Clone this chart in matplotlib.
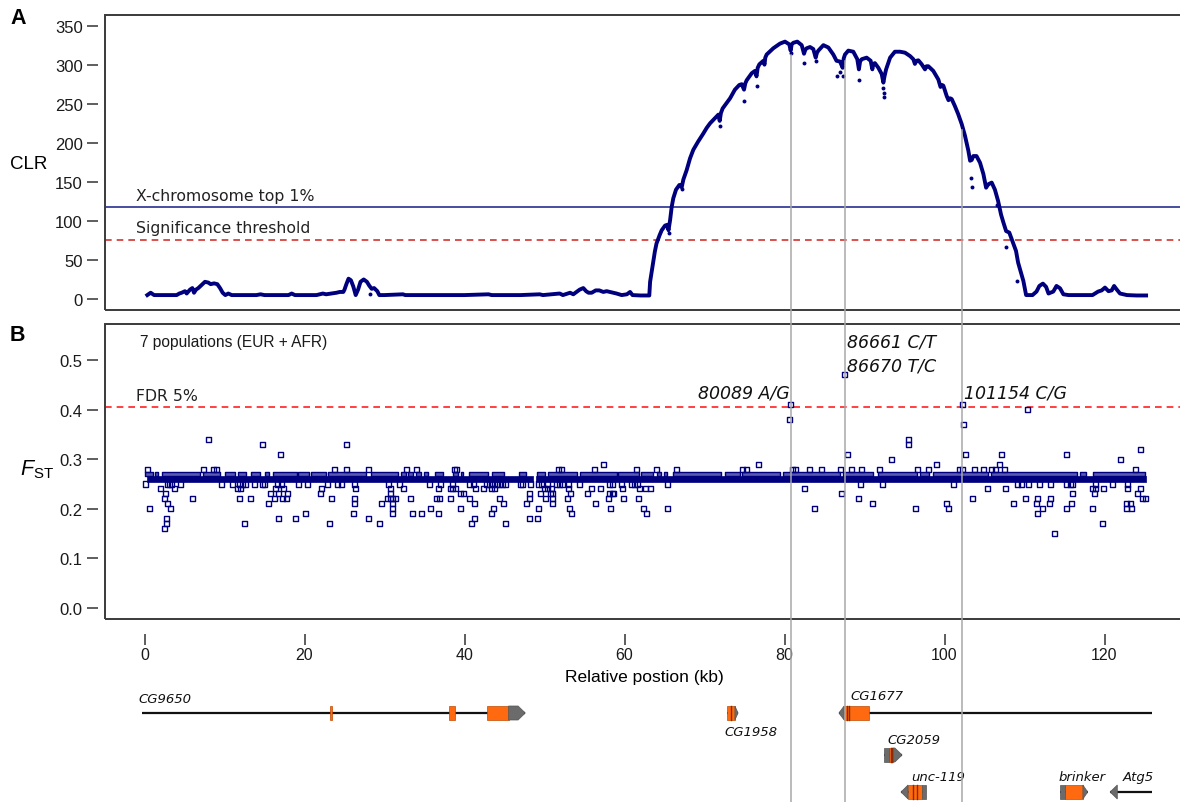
import numpy as np
import matplotlib.pyplot as plt
from matplotlib.patches import Rectangle, Polygon
from matplotlib.lines import Line2D
from matplotlib.transforms import blended_transform_factory

plt.rcParams['font.family'] = ['Liberation Sans', 'DejaVu Sans']
plt.rcParams['mathtext.fontset'] = 'custom'
plt.rcParams['mathtext.rm'] = 'Liberation Sans'
plt.rcParams['mathtext.it'] = 'Liberation Sans:italic'

NAVY = '#00007f'
ORANGE = '#ff6a10'
GREY = '#6b6b6b'

# ---- CLR scan (kb, CLR) ----
clr_kb = [0.35, 0.77, 1.2, 2.0, 3.0, 4.02, 4.35, 4.65, 5.06, 5.27, 5.69, 5.98, 6.19,
          6.44, 6.73, 7.15, 7.56, 7.98, 8.27, 8.69, 9.1, 9.44, 9.77, 10.1, 10.48, 10.9,
          12.0, 14.0, 14.5, 15.0, 18.0, 18.4, 18.8, 21.5, 21.9, 22.3, 22.7, 24.0, 24.4,
          24.85, 25.0, 25.2, 25.5, 25.8, 26.1, 26.4, 26.7, 27.0, 27.4, 27.8, 28.1, 28.4,
          28.7, 29.1, 29.35, 30.0, 32.3, 32.6, 36.0, 40.0, 43.0, 43.4, 47.0, 49.4, 49.8,
          51.9, 52.3, 53.2, 53.6, 54.0, 54.4, 54.85, 55.2, 55.5, 55.9, 56.4, 56.85, 57.35,
          57.77, 58.2, 58.6, 59.0, 59.65, 60.3, 60.7, 61.0, 62.0, 63.1,
          63.2, 63.4, 63.6, 63.8, 64.0, 64.4, 64.65, 65.07, 65.36, 65.5, 65.7, 65.9, 66.1,
          66.44, 66.86, 67.15, 67.36, 67.77, 68.19, 68.6, 69.2, 69.86, 70.27, 70.7, 71.3,
          71.73, 71.9, 72.05, 72.27, 72.77, 73.2, 73.8, 74.35, 74.65, 74.94, 75.1, 75.27,
          75.9, 76.3, 76.5, 76.65, 76.86, 77.36, 77.5, 77.6, 77.77, 78.6, 79.44, 80.06,
          80.6, 80.77, 80.9, 81.1, 81.6, 82.15, 82.44, 82.6, 82.77, 83.19, 83.6, 83.9,
          84.05, 84.23, 84.86, 85.48, 86.1, 86.5, 86.94, 87.27, 87.4, 87.56, 87.98, 88.6,
          89.1, 89.3, 89.45, 89.65, 90.27, 90.77, 90.98, 91.1, 91.3, 91.73, 92.15, 92.36,
          92.5, 92.7, 93.2, 93.8, 94.44, 95.06, 95.7, 96.1, 96.3, 96.5, 96.73, 97.15,
          97.56, 97.75, 97.98, 98.6, 99.23, 99.5, 99.7, 99.86, 100.27, 100.5, 100.7, 100.9,
          101.3, 101.7, 102.15, 102.56, 102.98, 103.2, 103.4, 103.6, 104.0, 104.44, 104.86,
          105.2, 105.35, 105.5, 105.9, 106.3, 106.7, 107.07, 107.36, 107.7, 108.1, 108.5,
          108.94, 109.2, 109.5, 109.86, 110.06, 110.2, 111.0, 111.5, 111.86, 112.3, 112.7,
          113.0, 113.6, 114.0, 114.44, 114.86, 115.5, 117.0, 118.5, 119.2, 119.65, 120.06,
          120.5, 120.9, 121.2, 121.5, 121.94, 122.8, 124.0, 125.2]
clr_val = [5, 8, 5, 5, 5, 5, 7, 8, 10, 7, 12, 14, 8,
           12, 14, 18, 22, 21, 19, 20, 19, 14, 8, 5, 7, 5,
           5, 5, 6, 5, 5, 7, 5, 5, 6, 7, 6, 8, 9,
           9, 12, 18, 26, 24, 16, 5, 12, 22, 25, 22, 17, 13,
           14, 10, 5, 5, 6, 5, 5, 5, 6, 5, 5, 6, 5,
           7, 5, 8, 6, 9, 12, 14, 10, 8, 8, 11, 11, 9,
           10, 9, 8, 7, 5, 6, 9, 5, 4.5, 4.5,
           22, 35, 48, 61, 71, 82, 88, 94, 95, 88, 101, 118, 129,
           140, 146, 143, 153, 165, 180, 191, 201.5, 212, 219, 225, 231.5,
           236, 228, 238, 244, 251, 257, 268, 274, 275, 268, 276, 280,
           289, 292, 285, 296, 300.5, 305, 300, 309, 313, 321, 327, 329.5,
           326, 318, 326, 328, 329.5, 325, 314, 319, 321, 322.6, 320, 309,
           315, 318, 325, 322, 313, 305, 304, 296, 308, 313, 318, 316.6,
           307, 294, 304, 307, 309, 305, 294, 301, 302, 296, 288, 277,
           285, 294, 309, 316.6, 316.6, 315.4, 311, 307, 301, 305, 305.6, 300.5,
           294, 298, 298, 292, 281, 271.5, 274, 273, 260, 254.5, 257, 256,
           247, 237, 224, 209, 190, 177, 178, 183, 183, 174.5, 160,
           142.5, 145, 147, 149, 140, 125.5, 108, 98, 87, 85, 74,
           61.5, 46.6, 36, 23, 12.4, 5, 5, 9.5, 16.7, 19.7, 15.5,
           7, 9.5, 16.7, 13.7, 6, 5, 5, 5, 9.5, 11, 14.6,
           10, 11, 16.7, 12.5, 7, 5, 4.5, 4.5]
# isolated points that fall below the main curve
clr_out_kb = [28.2, 65.6, 67.15, 71.94, 74.94, 76.5, 80.77, 82.44, 83.9, 86.5, 86.94,
              87.27, 89.3, 92.36, 92.38, 92.4, 103.3, 103.4, 106.5, 107.7, 109.0]
clr_out_val = [6, 85, 141, 222, 253.5, 273, 315, 302.6, 305, 285, 290,
               285, 281, 270, 264, 258.5, 155, 143, 120, 67, 23]

clr_top1 = 118      # X-chromosome top 1%
clr_signif = 75.5   # significance threshold

# ---- FST (kb, FST) ----
fst_kb = [8.04, 14.79, 25.29, 17.0,
          0.42, 7.42, 8.63, 9.04, 23.75, 25.29, 27.96, 32.7, 34.0, 38.7, 39.0,
          0.13, 2.83, 3.13, 3.42, 4.46, 9.58, 11.04, 11.88, 12.29, 12.63, 13.75, 14.79,
          15.04, 16.58, 17.08, 19.29, 20.42, 22.92, 24.08, 24.58, 26.25, 30.54, 31.88,
          35.63, 37.0, 38.54, 40.63, 41.17,
          1.96, 3.75, 11.58, 11.96, 16.38, 17.42, 22.08, 26.38, 30.7, 32.4, 36.8, 38.2,
          38.5, 38.9, 41.4,
          2.63, 15.7, 16.8, 17.9, 22.0, 30.7, 39.5, 39.9,
          2.54, 6.04, 11.88, 13.25, 16.25, 17.29, 17.79, 23.38, 26.29, 30.4, 30.7, 31.04,
          31.38, 33.2, 36.46, 36.88, 38.2, 40.6,
          2.92, 15.5, 26.3, 29.6, 31.0, 41.2,
          0.63, 3.25, 31.0, 35.75, 39.46,
          20.13, 26.17, 31.0, 33.46, 34.6, 36.75,
          2.71, 16.75, 18.83, 27.96, 41.25,
          2.71, 12.5, 23.13, 29.38, 40.9,
          2.5,
          57.38, 76.79,
          51.75, 52.17, 56.25, 61.46, 64.04, 66.46, 74.79, 75.21, 81.04, 81.38, 83.13,
          42.7, 43.13, 43.54, 43.96, 44.38, 44.79, 45.13, 46.96, 47.29, 48.2, 49.2, 49.58,
          50.42, 51.46, 51.88, 52.29, 53.04, 54.38, 58.13, 58.54, 59.58, 60.83, 61.25,
          61.67, 65.42,
          42.38, 43.33, 43.75, 50.0, 50.42, 50.83, 53.04, 55.83, 57.0, 59.79, 61.88,
          62.58, 63.25, 82.5,
          48.13, 49.46, 50.71, 51.04, 53.2, 55.33, 58.13, 58.46, 58.67,
          44.38, 48.13, 50.13, 50.96, 52.92, 58.04, 59.88, 61.79,
          44.88, 47.71, 50.96, 56.33,
          43.63, 49.21, 53.13, 58.2, 62.38, 65.33, 83.75,
          43.42, 53.33, 62.79,
          48.13, 49.17,
          45.08,
          80.75, 80.65, 87.5, 102.2, 110.4, 102.4, 95.54, 95.54, 124.46,
          87.83, 102.58, 107.08, 115.2, 93.42, 122.04, 98.96, 106.92,
          84.58, 87.0, 88.33, 89.58, 91.88, 96.58, 98.0, 101.88, 102.29, 103.75, 104.92,
          105.83, 106.33, 107.5, 123.83,
          89.46, 92.29, 101.17, 109.17, 109.58, 110.5, 111.88, 113.25, 115.2, 115.71,
          116.04, 118.88, 120.96, 122.83,
          105.33, 107.67, 118.54, 118.88, 119.92, 122.83, 124.46,
          87.08, 115.96, 118.79, 124.08,
          89.29, 103.46, 110.13, 111.67, 113.25, 124.79, 125.08,
          90.96, 100.21, 108.63, 111.46, 113.13, 115.92, 122.79, 123.2,
          96.33, 100.5, 112.21, 115.29, 118.46, 122.79, 123.42,
          111.67, 119.7, 113.79]
fst_val = [0.34, 0.33, 0.33, 0.31,
           0.28, 0.28, 0.28, 0.28, 0.28, 0.28, 0.28, 0.28, 0.28, 0.28, 0.28,
           0.25, 0.25, 0.25, 0.25, 0.25, 0.25, 0.25, 0.25, 0.25, 0.25, 0.25, 0.25,
           0.25, 0.25, 0.25, 0.25, 0.25, 0.25, 0.25, 0.25, 0.25, 0.25, 0.25,
           0.25, 0.25, 0.25, 0.25, 0.25,
           0.24, 0.24, 0.24, 0.24, 0.24, 0.24, 0.24, 0.24, 0.24, 0.24, 0.24, 0.24,
           0.24, 0.24, 0.24,
           0.23, 0.23, 0.23, 0.23, 0.23, 0.23, 0.23, 0.23,
           0.22, 0.22, 0.22, 0.22, 0.22, 0.22, 0.22, 0.22, 0.22, 0.22, 0.22, 0.22,
           0.22, 0.22, 0.22, 0.22, 0.22, 0.22,
           0.21, 0.21, 0.21, 0.21, 0.21, 0.21,
           0.20, 0.20, 0.20, 0.20, 0.20,
           0.19, 0.19, 0.19, 0.19, 0.19, 0.19,
           0.18, 0.18, 0.18, 0.18, 0.18,
           0.17, 0.17, 0.17, 0.17, 0.17,
           0.16,
           0.29, 0.29,
           0.28, 0.28, 0.28, 0.28, 0.28, 0.28, 0.28, 0.28, 0.28, 0.28, 0.28,
           0.25, 0.25, 0.25, 0.25, 0.25, 0.25, 0.25, 0.25, 0.25, 0.25, 0.25, 0.25,
           0.25, 0.25, 0.25, 0.25, 0.25, 0.25, 0.25, 0.25, 0.25, 0.25, 0.25,
           0.25, 0.25,
           0.24, 0.24, 0.24, 0.24, 0.24, 0.24, 0.24, 0.24, 0.24, 0.24, 0.24,
           0.24, 0.24, 0.24,
           0.23, 0.23, 0.23, 0.23, 0.23, 0.23, 0.23, 0.23, 0.23,
           0.22, 0.22, 0.22, 0.22, 0.22, 0.22, 0.22, 0.22,
           0.21, 0.21, 0.21, 0.21,
           0.20, 0.20, 0.20, 0.20, 0.20, 0.20, 0.20,
           0.19, 0.19, 0.19,
           0.18, 0.18,
           0.17,
           0.41, 0.38, 0.47, 0.41, 0.40, 0.37, 0.34, 0.33, 0.32,
           0.31, 0.31, 0.31, 0.31, 0.30, 0.30, 0.29, 0.29,
           0.28, 0.28, 0.28, 0.28, 0.28, 0.28, 0.28, 0.28, 0.28, 0.28, 0.28,
           0.28, 0.28, 0.28, 0.28,
           0.25, 0.25, 0.25, 0.25, 0.25, 0.25, 0.25, 0.25, 0.25, 0.25,
           0.25, 0.25, 0.25, 0.25,
           0.24, 0.24, 0.24, 0.24, 0.24, 0.24, 0.24,
           0.23, 0.23, 0.23, 0.23,
           0.22, 0.22, 0.22, 0.22, 0.22, 0.22, 0.22,
           0.21, 0.21, 0.21, 0.21, 0.21, 0.21, 0.21, 0.21,
           0.20, 0.20, 0.20, 0.20, 0.20, 0.20, 0.20,
           0.19, 0.17, 0.15]

# runs of consecutive SNPs sitting at 0.26 and at 0.27 (start kb, end kb)
band26_runs = [(0.3, 48.5), (48.9, 125.2)]
band27_runs = [(0.0, 1.0), (1.25, 1.67), (2.2, 6.9), (7.3, 9.4), (10.0, 11.25), (11.7, 12.7),
               (13.3, 14.4), (15.1, 15.5), (16.0, 19.0), (19.2, 20.6), (20.8, 22.7),
               (22.9, 27.7), (28.3, 31.7), (32.1, 32.7), (32.9, 33.5), (33.9, 34.6),
               (34.9, 35.4), (36.3, 37.3), (38.5, 39.2), (39.6, 39.8), (40.5, 42.9),
               (43.4, 44.9), (46.8, 47.7), (49.0, 50.0), (50.4, 54.0), (54.4, 59.0),
               (59.2, 61.8), (62.1, 63.5), (64.0, 64.6), (64.9, 65.3), (66.0, 72.1),
               (72.5, 74.4), (74.7, 79.4), (79.8, 86.9), (87.3, 91.0), (91.7, 96.5),
               (96.9, 98.1), (98.5, 105.4), (105.8, 116.5), (116.9, 117.7), (118.5, 125.0)]
fdr5 = 0.405

# highlighted SNPs
snp_kb = [80.75, 87.5, 102.2]

# ---- gene models ----
gene_names = ['CG9650', 'CG1958', 'CG1677', 'CG2059', 'unc-119', 'brinker', 'Atg5']
gene_strand = ['+', '+', '-', '+', '-', '+', '-']
gene_row = [0, 0, 0, 1, 2, 2, 2]
gene_span = [(-0.35, 47.6), (72.85, 74.2), (86.8, 125.9), (92.4, 94.7),
             (94.56, 97.7), (114.4, 117.9), (120.7, 125.9)]
gene_cds = [[(23.15, 23.4), (38.06, 38.8), (42.8, 45.5)], [(72.85, 73.8)], [(87.45, 90.56)],
            [(93.06, 93.56)], [(95.44, 97.2)], [(115.06, 117.3)], []]
gene_utr = [[(45.5, 47.6)], [(73.8, 74.2)], [(86.8, 87.45)], [(92.4, 93.06), (93.56, 94.7)],
            [(94.56, 95.44), (97.2, 97.7)], [(114.4, 115.06), (117.3, 117.9)], [(120.7, 121.6)]]
gene_marks = [[], [73.3], [87.75, 88.1], [93.25, 93.4], [96.0, 96.6], [], []]
label_kb = [-0.8, 72.5, 88.3, 92.9, 95.8, 114.2, 122.3]
label_y = [10, 43, 7, 51, 88, 88, 88]
row_y = [24, 66, 103]

# ---- layout (pixel boxes) ----
W, H = 1180, 803
fig = plt.figure(figsize=(W / 100, H / 100), dpi=100)


def px_box(l, t, r, b):
    return [l / W, 1 - b / H, (r - l) / W, (b - t) / H]


axA = fig.add_axes(px_box(105, 16, 1184, 311))
axB = fig.add_axes(px_box(105, 325, 1184, 620))
axG = fig.add_axes(px_box(105, 690, 1184, 803))
xlim = ((105 - 144.5) / 8, (1184 - 144.5) / 8)
for ax in (axA, axB, axG):
    ax.set_xlim(*xlim)


def frame(ax):
    for s in ax.spines.values():
        s.set_visible(False)
    ax.spines['left'].set_position(('outward', 5))
    ax.spines['bottom'].set_position(('outward', 11))
    ax.add_patch(Rectangle((0, 0), 1, 1, transform=ax.transAxes, fill=False,
                           lw=1.4, ec='#3a3a3a', clip_on=False, zorder=5))
    ax.tick_params(direction='out', length=8, width=1.1, color='#333333',
                   labelsize=12, labelcolor='#1a1a1a', pad=3)
    ax.tick_params(axis='x', length=8, pad=1, labelsize=11.5)


# ---- panel A ----
frame(axA)
axA.set_ylim(-14.1, 363.6)
axA.set_yticks(np.arange(0, 351, 50))
axA.set_xticks([])
axA.axhline(clr_top1, color='#26308f', lw=1.2, zorder=2)
axA.axhline(clr_signif, color='#d2342f', lw=1.2, ls=(0, (4, 3)), zorder=2)
axA.plot(clr_kb, clr_val, color=NAVY, lw=2.8, zorder=3, solid_joinstyle='round')
axA.scatter(clr_out_kb, clr_out_val, s=8, color=NAVY, lw=0, zorder=3)
axA.text(-1.1, 133, 'X-chromosome top 1%', family='DejaVu Sans',
         fontsize=11.3, color='#222222', va='center')
axA.text(-1.1, 92, 'Significance threshold', family='DejaVu Sans',
         fontsize=11.3, color='#222222', va='center')
fig.text(29 / W, 1 - 165 / H, 'CLR', fontsize=13.5, ha='center', va='center')
fig.text(10 / W, 1 - 19 / H, 'A', fontsize=15.5, fontweight='bold', va='center')

# ---- panel B ----
frame(axB)
axB.set_ylim(-0.0222, 0.5726)
axB.set_yticks(np.arange(0, 0.51, 0.1))
axB.set_yticklabels(['0.0', '0.1', '0.2', '0.3', '0.4', '0.5'])
axB.set_xticks(np.arange(0, 121, 20))
axB.axhline(fdr5, color='#ff2020', lw=1.2, ls=(0, (4, 3)), zorder=2)
axB.broken_barh([(a, b - a) for a, b in band26_runs], (0.2547, 0.0106),
                facecolors=NAVY, edgecolors=NAVY, lw=0.5, zorder=3)
axB.broken_barh([(a, b - a) for a, b in band27_runs], (0.2653, 0.0098),
                facecolors='#5a5aae', edgecolors=NAVY, lw=1.0, zorder=3)
axB.scatter(fst_kb, fst_val, marker='s', s=13, facecolors='none',
            edgecolors=NAVY, linewidths=1.0, zorder=4)
axB.text(-0.6, 0.538, '7 populations (EUR + AFR)', fontsize=11.2, color='#1a1a1a', va='center')
axB.text(-1.1, 0.428, 'FDR 5%', family='DejaVu Sans', fontsize=11.3, color='#222222', va='center')
snp_font = dict(family='DejaVu Sans', style='italic', fontsize=12.5, color='#111111', va='center')
axB.text(snp_kb[0] - 0.15, 0.435, '80089 A/G', ha='right', **snp_font)
axB.text(snp_kb[1] + 0.3, 0.538, '86661 C/T', ha='left', **snp_font)
axB.text(snp_kb[1] + 0.3, 0.488, '86670 T/C', ha='left', **snp_font)
axB.text(snp_kb[2] + 0.3, 0.435, '101154 C/G', ha='left', **snp_font)
fig.text(20 / W, 1 - 470 / H, '$F_{\\mathrm{ST}}$', fontsize=15.5, ha='left', va='center')
axB.set_xlabel('Relative postion (kb)', fontsize=12.5, labelpad=5)
fig.text(10 / W, 1 - 336 / H, 'B', fontsize=15.5, fontweight='bold', va='center')

# ---- gene track ----
axG.set_ylim(113, 0)
axG.axis('off')
TIP = 0.9
HH = 7
for i, name in enumerate(gene_names):
    yc = row_y[gene_row[i]]
    s0, s1 = gene_span[i]
    axG.plot([s0, s1], [yc, yc], color='#111111', lw=1.6, zorder=1, solid_capstyle='butt')
    for a, b in gene_cds[i]:
        axG.add_patch(Rectangle((a, yc - HH), b - a, 2 * HH, fc=ORANGE, ec='#c24a00',
                                lw=0.5, zorder=2))
    ends = gene_utr[i]
    tip_seg = max(ends, key=lambda t: t[1]) if gene_strand[i] == '+' else min(ends, key=lambda t: t[0])
    for a, b in ends:
        if (a, b) == tip_seg:
            t = min(TIP, b - a)
            if gene_strand[i] == '+':
                pts = [(a, yc - HH), (b - t, yc - HH), (b, yc), (b - t, yc + HH), (a, yc + HH)]
            else:
                pts = [(b, yc - HH), (a + t, yc - HH), (a, yc), (a + t, yc + HH), (b, yc + HH)]
            axG.add_patch(Polygon(pts, closed=True, fc=GREY, ec='#555555', lw=0.5, zorder=2))
        else:
            axG.add_patch(Rectangle((a, yc - HH), b - a, 2 * HH, fc=GREY, ec='#555555',
                                    lw=0.5, zorder=2))
    for m in gene_marks[i]:
        axG.plot([m, m], [yc - HH, yc + HH], color='#8a2c00', lw=1.0, zorder=3)
    axG.text(label_kb[i], label_y[i], name, family='DejaVu Sans', style='italic',
             fontsize=9.5, color='#111111', va='center', ha='left')

# ---- SNP guide lines from the CLR curve to the bottom ----
fig.canvas.draw()
blend = blended_transform_factory(axB.transData, fig.transFigure)
for x in snp_kb:
    yv = np.interp(x, clr_kb, clr_val) - 6
    ytop = fig.transFigure.inverted().transform(axA.transData.transform((x, yv)))[1]
    fig.add_artist(Line2D([x, x], [ytop, 0], transform=blend, color='#a8a8a8',
                          lw=1.1, zorder=0.5))

fig.savefig('out.png', dpi=100)
